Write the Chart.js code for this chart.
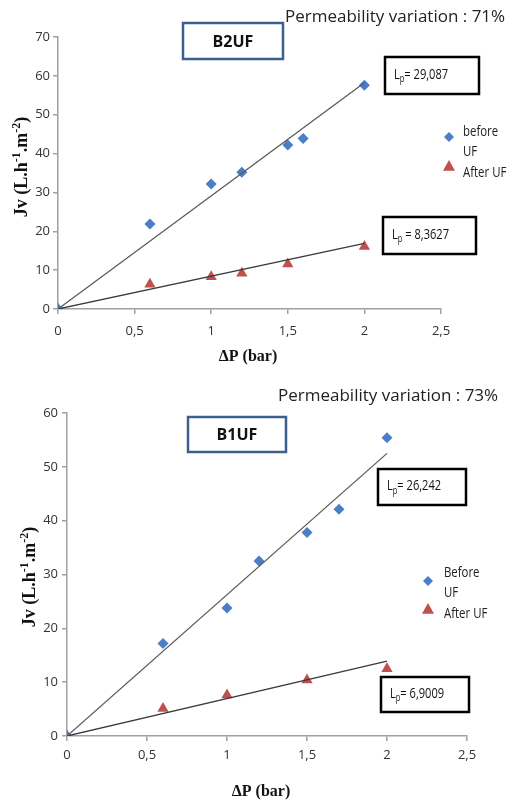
<!DOCTYPE html>
<html>
<head>
<meta charset="utf-8">
<script src="https://cdn.jsdelivr.net/npm/chart.js@4.4.0/dist/chart.umd.min.js"></script>
<style>
  body { margin: 0; background: #fff; }
  canvas { display: block; }
</style>
</head>
<body>
<canvas id="b2uf-canvas" width="511" height="385"></canvas>
<canvas id="b1uf-canvas" width="511" height="418"></canvas>
<script>
// valeurs
const pressureTicks = [0, 0.5, 1, 1.5, 2, 2.5];

// B2UF
const b2ufBeforeX = [0, 0.6, 1, 1.2, 1.5, 1.6, 2];
const b2ufBeforeY = [0, 21.9, 32.2, 35.2, 42.2, 43.9, 57.6];
const b2ufAfterX = [0, 0.6, 1, 1.2, 1.5, 2];
const b2ufAfterY = [0, 6.4, 8.3, 9.2, 11.6, 16.1];
const b2ufFitX = [0, 2];
const b2ufFitBefore = [0, 58.2];
const b2ufFitAfter = [0, 16.9];
const b2ufLp = ['= 29,087', ' = 8,3627'];
const b2ufVariation = '71%';

// B1UF
const b1ufBeforeX = [0, 0.6, 1, 1.2, 1.5, 1.7, 2];
const b1ufBeforeY = [0, 17.2, 23.8, 32.5, 37.8, 42.1, 55.4];
const b1ufAfterX = [0, 0.6, 1, 1.5, 2];
const b1ufAfterY = [0, 5.1, 7.6, 10.4, 12.5];
const b1ufFitX = [0, 2];
const b1ufFitBefore = [0, 52.5];
const b1ufFitAfter = [0, 13.9];
const b1ufLp = ['= 26,242', '= 6,9009'];
const b1ufVariation = '73%';

const BLUE = '#4a7ec6';
const RED = '#c0504d';
const AXIS = '#a0a0a0';
const TEXT = '#333';

const toPoints = (xs, ys) => xs.map((x, i) => ({x: x, y: ys[i]}));

// texte étroit façon Calibri
function narrowText(ctx, text, x, y, sx) {
    ctx.save();
    ctx.translate(x, y);
    ctx.scale(sx, 1);
    ctx.fillText(text, 0, 0);
    ctx.restore();
    return ctx.measureText(text).width * sx;
}

function drawLp(ctx, x, y, rest) {
    const sx = 0.74;
    ctx.textBaseline = 'middle';
    ctx.textAlign = 'left';
    ctx.fillStyle = '#111';
    ctx.font = '15px "Open Sans"';
    let w = narrowText(ctx, 'L', x, y, sx);
    ctx.font = '10px "Open Sans"';
    w += narrowText(ctx, 'p', x + w, y + 5, sx);
    ctx.font = '15px "Open Sans"';
    narrowText(ctx, rest, x + w, y, sx);
}

function drawYTitle(ctx, cx, cy) {
    const parts = [['Jv (L.h', false], ['-1', true], ['.m', false], ['-2', true], [')', false]];
    const big = 'bold 18px "Liberation Serif"';
    const small = 'bold 12px "Liberation Serif"';
    let total = 0;
    parts.forEach(p => { ctx.font = p[1] ? small : big; total += ctx.measureText(p[0]).width; });
    ctx.save();
    ctx.translate(cx, cy);
    ctx.rotate(-Math.PI / 2);
    ctx.fillStyle = '#111';
    ctx.textBaseline = 'middle';
    ctx.textAlign = 'left';
    let x = -total / 2;
    parts.forEach(p => {
        ctx.font = p[1] ? small : big;
        ctx.fillText(p[0], x, p[1] ? -5 : 0);
        x += ctx.measureText(p[0]).width;
    });
    ctx.restore();
}

// textes, cadres et légende dessinés par-dessus le graphique
const extrasPlugin = {
    id: 'extras',
    afterDraw(chart, args, opts) {
        const ctx = chart.ctx;
        ctx.save();
        // variation
        ctx.fillStyle = '#222';
        ctx.font = '17px "Open Sans"';
        ctx.textAlign = 'left';
        ctx.textBaseline = 'middle';
        ctx.fillText(opts.variation.text, opts.variation.x, opts.variation.y);

        // cadre du nom
        const nb = opts.nameBox;
        ctx.fillStyle = '#fff';
        ctx.fillRect(nb.x, nb.y, nb.w, nb.h);
        ctx.strokeStyle = '#3c5f8f';
        ctx.lineWidth = 2.5;
        ctx.strokeRect(nb.x, nb.y, nb.w, nb.h);
        ctx.fillStyle = '#111';
        ctx.font = 'bold 16px "Open Sans"';
        ctx.textAlign = 'center';
        ctx.fillText(nb.text, nb.x + nb.w / 2, nb.y + nb.h / 2 + 1);

        // cadres Lp
        opts.lpBoxes.forEach(b => {
            ctx.fillStyle = '#fff';
            ctx.fillRect(b.x, b.y, b.w, b.h);
            ctx.strokeStyle = '#000';
            ctx.lineWidth = 2.5;
            ctx.strokeRect(b.x, b.y, b.w, b.h);
            drawLp(ctx, b.x + 9, b.y + b.h / 2 - 1, b.rest);
        });

        // légende
        opts.legend.forEach(l => {
            ctx.fillStyle = l.color;
            ctx.beginPath();
            if (l.style === 'rectRot') {
                ctx.moveTo(l.mx, l.my - l.r); ctx.lineTo(l.mx + l.r, l.my);
                ctx.lineTo(l.mx, l.my + l.r); ctx.lineTo(l.mx - l.r, l.my);
            } else {
                ctx.moveTo(l.mx, l.my - l.r); ctx.lineTo(l.mx + l.r, l.my + l.r * 0.8);
                ctx.lineTo(l.mx - l.r, l.my + l.r * 0.8);
            }
            ctx.closePath();
            ctx.fill();
            ctx.fillStyle = '#222';
            ctx.font = '15px "Open Sans"';
            ctx.textAlign = 'left';
            l.lines.forEach((t, i) => narrowText(ctx, t, l.tx, l.ty + i * 20, 0.76));
        });

        // titres des axes
        ctx.fillStyle = '#111';
        ctx.font = 'bold 16px "Liberation Serif"';
        ctx.textAlign = 'center';
        ctx.fillText('\u0394P (bar)', opts.xTitle.x, opts.xTitle.y);
        drawYTitle(ctx, opts.yTitle.x, opts.yTitle.y);
        ctx.restore();
    }
};

function makeChart(canvasId, d, lay, extras) {
    const ctx = document.getElementById(canvasId).getContext('2d');
    return new Chart(ctx, {
        type: 'scatter',
        data: {
            datasets: [{
                type: 'line',
                data: toPoints(d.fitX, d.fitBefore),
                borderColor: '#5a5a5a',
                borderWidth: 1.3,
                pointRadius: 0
            }, {
                type: 'line',
                data: toPoints(d.fitX, d.fitAfter),
                borderColor: '#3a3a3a',
                borderWidth: 1.3,
                pointRadius: 0
            }, {
                label: 'before UF',
                data: toPoints(d.beforeX, d.beforeY),
                pointStyle: 'rectRot',
                pointRadius: 5.5,
                backgroundColor: BLUE,
                borderColor: BLUE,
                borderWidth: 0
            }, {
                label: 'After UF',
                data: toPoints(d.afterX, d.afterY),
                pointStyle: 'triangle',
                pointRadius: 6.5,
                backgroundColor: RED,
                borderColor: RED,
                borderWidth: 0
            }]
        },
        options: {
            responsive: false,
            animation: false,
            layout: {padding: lay.padding},
            plugins: {
                legend: {display: false},
                tooltip: {enabled: false},
                extras: extras
            },
            scales: {
                x: {
                    type: 'linear',
                    min: 0, max: 2.5,
                    afterBuildTicks: s => { s.ticks = pressureTicks.map(v => ({value: v})); },
                    afterFit: s => { s.height = lay.xHeight; },
                    border: {color: AXIS, width: 1.5},
                    grid: {drawOnChartArea: false, tickLength: 5, color: AXIS, lineWidth: 1.5},
                    ticks: {
                        color: TEXT,
                        font: {family: 'Open Sans', size: 13},
                        padding: lay.xPad,
                        maxRotation: 0,
                        callback: v => String(v).replace('.', ',')
                    }
                },
                y: {
                    min: 0, max: d.yMax,
                    ticks: {
                        stepSize: 10,
                        color: TEXT,
                        font: {family: 'Open Sans', size: 13},
                        padding: lay.yPad
                    },
                    afterFit: s => { s.width = lay.yWidth; },
                    border: {color: AXIS, width: 1.5},
                    grid: {drawOnChartArea: false, tickLength: 5, color: AXIS, lineWidth: 1.5}
                }
            }
        },
        plugins: [extrasPlugin]
    });
}

makeChart('b2uf-canvas', {
    beforeX: b2ufBeforeX, beforeY: b2ufBeforeY,
    afterX: b2ufAfterX, afterY: b2ufAfterY,
    fitX: b2ufFitX, fitBefore: b2ufFitBefore, fitAfter: b2ufFitAfter,
    yMax: 70
}, {
    padding: {left: 0, top: 37, right: 70, bottom: 36},
    yWidth: 58, xHeight: 40, xPad: 9, yPad: 3
}, {
    variation: {text: 'Permeability variation : ' + b2ufVariation, x: 285, y: 17},
    nameBox: {text: 'B2UF', x: 183, y: 23, w: 100, h: 36},
    lpBoxes: [
        {rest: b2ufLp[0], x: 385, y: 57, w: 94, h: 37},
        {rest: b2ufLp[1], x: 383, y: 217, w: 93, h: 37}
    ],
    legend: [
        {style: 'rectRot', color: BLUE, r: 5, mx: 449, my: 137, tx: 463, ty: 132, lines: ['before', 'UF']},
        {style: 'triangle', color: RED, r: 6, mx: 449, my: 166, tx: 463, ty: 173, lines: ['After UF']}
    ],
    xTitle: {x: 248, y: 357},
    yTitle: {x: 22, y: 167}
});

makeChart('b1uf-canvas', {
    beforeX: b1ufBeforeX, beforeY: b1ufBeforeY,
    afterX: b1ufAfterX, afterY: b1ufAfterY,
    fitX: b1ufFitX, fitBefore: b1ufFitBefore, fitAfter: b1ufFitAfter,
    yMax: 60
}, {
    padding: {left: 0, top: 28, right: 44, bottom: 27},
    yWidth: 67, xHeight: 40, xPad: 6, yPad: 4
}, {
    variation: {text: 'Permeability variation : ' + b1ufVariation, x: 278, y: 11},
    nameBox: {text: 'B1UF', x: 188, y: 32, w: 98, h: 35},
    lpBoxes: [
        {rest: b1ufLp[0], x: 378, y: 84, w: 88, h: 36},
        {rest: b1ufLp[1], x: 381, y: 292, w: 88, h: 35}
    ],
    legend: [
        {style: 'rectRot', color: BLUE, r: 5, mx: 428, my: 196, tx: 444, ty: 188, lines: ['Before', 'UF']},
        {style: 'triangle', color: RED, r: 6, mx: 428, my: 224, tx: 444, ty: 229, lines: ['After UF']}
    ],
    xTitle: {x: 261, y: 407},
    yTitle: {x: 30, y: 192}
});
</script>
</body>
</html>
